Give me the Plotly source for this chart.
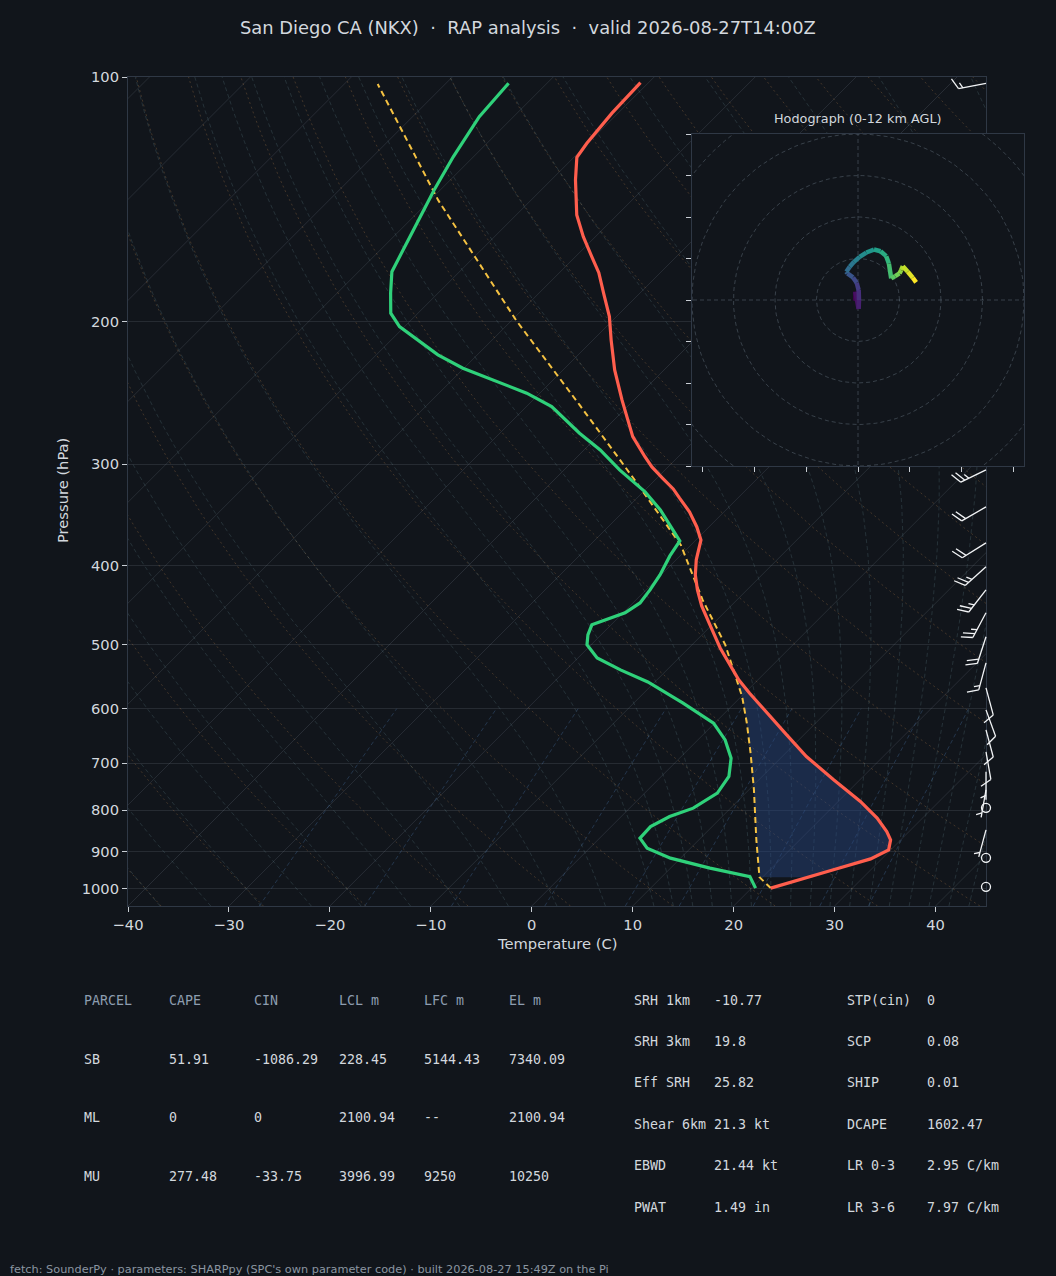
import numpy as np
import plotly.graph_objects as go
from plotly.colors import sample_colorscale

W, H = 1056, 1276
BG = '#11151b'
FG = '#d3d8de'
SPINE = '#2f3845'

# ---- sounding (hPa, degC), surface upward ----
temp_p = [998, 974.8, 947.5, 918.7, 895.6, 870.5, 850.3, 818.2, 780.6, 734.0, 687.2, 646.2,
          607.7, 574.2, 552.9, 530.0, 505.0, 473.0, 448.2, 428.4, 410.5, 393.3, 380.2, 371.8,
          358.3, 343.4, 330.0, 321.7, 312.1, 302.2, 293.6, 277.3, 249.9, 229.5, 210.9, 197.3,
          184.6, 174.2, 166.4, 157.3, 147.9, 133.9, 125.6, 120.7, 110.8, 101.6]
temp_c = [21.9, 24.0, 26.3, 28.9, 29.8, 29.0, 27.8, 25.5, 22.2, 17.4, 12.4, 8.3,
          4.2, 0.5, -1.9, -4.2, -6.9, -10.2, -12.9, -14.9, -16.6, -18.0, -18.9, -19.5,
          -21.2, -23.4, -25.8, -27.3, -29.4, -31.6, -33.3, -36.5, -41.2, -44.9, -48.2, -50.7,
          -53.6, -56.1, -58.4, -61.2, -64.0, -67.6, -69.7, -70.1, -70.6, -70.8]

dwpt_p = [998, 966.0, 943.0, 916.7, 891.1, 866.2, 838.2, 814.8, 795.5, 762.3, 727.2, 690.3,
          655.5, 625.2, 590.7, 556.1, 537.5, 519.5, 500.6, 486.6, 473.0, 466.3, 457.1, 444.5,
          428.4, 410.5, 389.0, 372.8, 356.3, 341.4, 324.4, 304.8, 288.0, 274.7, 254.7, 245.2,
          228.4, 219.9, 203.0, 195.4, 184.6, 173.7, 154.3, 137.8, 125.4, 111.9, 101.8]
dwpt_c = [20.4, 18.7, 13.9, 9.0, 5.7, 4.0, 3.9, 4.8, 6.3, 7.2, 6.7, 5.1,
          2.7, -0.1, -5.1, -10.7, -14.6, -18.1, -20.4, -21.3, -21.9, -21.1, -19.8, -19.3,
          -19.6, -20.1, -21.0, -21.5, -24.1, -26.5, -29.8, -34.5, -38.4, -42.1, -47.5, -51.3,
          -60.1, -63.9, -70.5, -72.7, -74.7, -76.7, -78.7, -80.6, -82.0, -83.4, -83.8]

parcel_p = [998, 967.5, 870.5, 755.2, 680.0, 625.2, 579.8, 552.9, 500.6, 440.7, 377.1,
            312.1, 253.5, 199.3, 141.8, 102.0]
parcel_c = [21.9, 19.7, 15.7, 10.5, 6.5, 3.2, 0.1, -2.1, -6.7, -13.4, -21.0,
            -32.3, -44.9, -59.6, -79.2, -96.7]

# wind barbs: pressure (hPa), direction (deg from), speed (kt)
barb_p = [101.8, 304.8, 338.5, 374.9, 401.1, 428.4, 457.1, 489.3, 526.9, 565.6,
          602.0, 637.2, 678.1, 717.6, 755.2, 794.9, 845.9, 915.9, 994.4]
barb_dir = [259, 244, 240, 238, 228, 218, 208, 198, 195, 165,
            160, 165, 170, 180, 190, 0, 195, 0, 0]
barb_kt = [15, 25, 20, 20, 25, 25, 25, 20, 15, 10,
           10, 10, 10, 5, 5, 0, 5, 0, 0]

# hodograph (u, v), surface -> 12 km
hodo_u = [-0.64, -0.64, 0.16, 0.24, 0.16, -0.32, -1.2, -2.56, -2.8, -2.0, -0.96, 0.4, 2.0,
          3.84, 5.44, 6.8, 7.44, 8.0, 8.96, 10.0, 10.4, 10.8, 12.0, 13.2, 14.0]
hodo_v = [-0.16, 2.0, -2.16, 0.0, 2.4, 4.16, 5.44, 6.4, 6.8, 8.0, 9.2, 10.4, 11.44,
          12.16, 11.76, 10.56, 8.8, 5.2, 5.76, 6.4, 7.2, 8.16, 6.8, 5.36, 4.24]

parcel_header = ['PARCEL', 'CAPE', 'CIN', 'LCL m', 'LFC m', 'EL m']
parcel_rows = [['SB', '51.91', '-1086.29', '228.45', '5144.43', '7340.09'],
               ['ML', '0', '0', '2100.94', '--', '2100.94'],
               ['MU', '277.48', '-33.75', '3996.99', '9250', '10250']]
kin_names = ['SRH 1km', 'SRH 3km', 'Eff SRH', 'Shear 6km', 'EBWD', 'PWAT']
kin_vals = ['-10.77', '19.8', '25.82', '21.3 kt', '21.44 kt', '1.49 in']
cmp_names = ['STP(cin)', 'SCP', 'SHIP', 'DCAPE', 'LR 0-3', 'LR 3-6']
cmp_vals = ['0', '0.08', '0.01', '1602.47', '2.95 C/km', '7.97 C/km']

# ---- skew-T geometry ----
P_BOT, P_TOP = 1050.0, 100.0
T_MIN, T_MAX = -40.0, 45.0
BOX_L, BOX_R, BOX_T, BOX_B = 128, 986, 77, 906
PX_DEG = (BOX_R - BOX_L) / (T_MAX - T_MIN)
PX_DEC = (BOX_B - BOX_T) / np.log10(P_BOT / P_TOP)
SKEW = PX_DEC / PX_DEG   # 45 degree isotherms


def skew(t, p):
    return np.asarray(t, float) + SKEW * np.log10(P_BOT / np.asarray(p, float))


def join(lines):
    xs, ys = [], []
    for x, y in lines:
        xs += list(x) + [None]
        ys += list(y) + [None]
    return xs, ys


RD, CP, LV, EPS = 287.04, 1005.7, 2.501e6, 0.622


def dtdp(p, t):
    es = 6.112 * np.exp(17.67 * (t - 273.15) / (t - 29.65))
    rs = EPS * es / (p - es)
    return (RD * t + LV * rs) / (p * (CP + LV * LV * rs * EPS / (RD * t * t)))


def integrate(t0, plist):
    out = [t0.copy()]
    t = t0.copy()
    for p0, p1 in zip(plist[:-1], plist[1:]):
        h = (p1 - p0) / 4
        p = p0
        for _ in range(4):
            k1 = dtdp(p, t)
            k2 = dtdp(p + h / 2, t + h * k1 / 2)
            k3 = dtdp(p + h / 2, t + h * k2 / 2)
            k4 = dtdp(p + h, t + h * k3)
            t = t + h * (k1 + 2 * k2 + 2 * k3 + k4) / 6
            p += h
        out.append(t.copy())
    return np.array(out)


fig = go.Figure()


def bg_lines(lines, color, dash=None):
    xs, ys = join(lines)
    fig.add_trace(go.Scatter(x=xs, y=ys, mode='lines', hoverinfo='skip', showlegend=False,
                             line=dict(color=color, width=1, dash=dash)))


# isotherms
pp = np.array([P_BOT, P_TOP])
bg_lines([(skew([t, t], pp), pp) for t in range(-130, 50, 10)], 'rgba(150,160,175,0.17)')

# dry adiabats
pg = np.geomspace(P_BOT, P_TOP, 60)
bg_lines([(skew(th * (pg / 1000) ** 0.2857 - 273.15, pg), pg)
          for th in np.arange(-50, 201, 10) + 273.15], 'rgba(200,140,80,0.27)', '2px,3px')

# moist adiabats
t0 = np.concatenate((np.arange(-50, 11, 5), np.arange(12, 46, 2))) + 273.15
p_up = np.linspace(1000, 100, 91)
p_dn = np.array([1000.0, 1025.0, 1050.0])
up = integrate(t0, p_up)
dn = integrate(t0, p_dn)
moist = []
for i in range(len(t0)):
    p_all = np.concatenate((p_dn[::-1], p_up[1:]))
    t_all = np.concatenate((dn[::-1, i], up[1:, i])) - 273.15
    moist.append((skew(t_all, p_all), p_all))
bg_lines(moist, 'rgba(110,150,160,0.22)', '4px,3px')

# mixing ratio lines
pm = np.linspace(P_BOT, 600, 20)
mix = []
for w in [0.0004, 0.001, 0.002, 0.004, 0.007, 0.01, 0.016, 0.024, 0.032]:
    e = w * pm / (EPS + w)
    le = np.log(e / 6.112)
    td = 243.5 * le / (17.67 - le)
    mix.append((skew(td, pm), pm))
bg_lines(mix, 'rgba(80,130,190,0.30)', '4px,3px')

# CIN shading between parcel and environment
lp = np.linspace(np.log10(parcel_p[1]), np.log10(480), 120)
t_env = np.interp(lp, np.log10(temp_p)[::-1], np.array(temp_c)[::-1])
t_par = np.interp(lp, np.log10(parcel_p)[::-1], np.array(parcel_c)[::-1])
diff = t_env - t_par
stop = int(np.argmax(diff <= 0)) if np.any(diff <= 0) else len(lp)
lp_f, te_f, tp_f = lp[:stop], t_env[:stop], t_par[:stop]
if stop < len(lp):
    f = diff[stop - 1] / (diff[stop - 1] - diff[stop])
    lc = lp[stop - 1] + f * (lp[stop] - lp[stop - 1])
    tc = t_par[stop - 1] + f * (t_par[stop] - t_par[stop - 1])
    lp_f, te_f, tp_f = np.append(lp_f, lc), np.append(te_f, tc), np.append(tp_f, tc)
p_f = 10 ** lp_f
fx = list(skew(tp_f, p_f)) + list(skew(te_f, p_f)[::-1])
fy = list(p_f) + list(p_f[::-1])
fig.add_trace(go.Scatter(x=fx, y=fy, mode='lines', fill='toself', fillcolor='rgba(40,70,130,0.45)',
                         line=dict(width=0), hoverinfo='skip', showlegend=False))

fig.add_trace(go.Scatter(x=skew(parcel_c, parcel_p), y=parcel_p, mode='lines', showlegend=False,
                         line=dict(color='#f5c242', width=2, dash='6px,4px')))
fig.add_trace(go.Scatter(x=skew(dwpt_c, dwpt_p), y=dwpt_p, mode='lines', showlegend=False,
                         line=dict(color='#2fd17a', width=3.2)))
fig.add_trace(go.Scatter(x=skew(temp_c, temp_p), y=temp_p, mode='lines', showlegend=False,
                         line=dict(color='#ff5e4d', width=3.2)))

# ---- wind barbs (x2/y2 share the skew-T scale, but extend a little past the right edge) ----
X2_R = 1040
STAFF, BARB, GAP = 28.0, 12.0, 4.5
ang = np.radians(65)
bx, by, cx, cy = [], [], [], []
for p, d, spd in zip(barb_p, barb_dir, barb_kt):
    if spd < 2.5:
        cx.append(T_MAX)
        cy.append(p)
        continue
    s = np.array([np.sin(np.radians(d)), -np.cos(np.radians(d))])
    b = np.array([s[0] * np.cos(ang) - s[1] * np.sin(ang), s[0] * np.sin(ang) + s[1] * np.cos(ang)])
    segs = [(np.zeros(2), s * STAFF)]
    pos = s * STAFF
    n_full, half = int(spd // 10), (spd % 10) >= 5
    for k in range(n_full):
        segs.append((pos, pos + b * BARB))
        pos = pos - s * GAP
    if half:
        if n_full == 0:
            pos = pos - s * GAP
        segs.append((pos, pos + b * BARB / 2))
    for a, c in segs:
        for q in (a, c):
            bx.append(T_MAX + q[0] / PX_DEG)
            by.append(10 ** (np.log10(p) + q[1] / PX_DEC))
        bx.append(None)
        by.append(None)
fig.add_trace(go.Scatter(x=bx, y=by, mode='lines', xaxis='x2', yaxis='y2', showlegend=False,
                         line=dict(color='#f2f4f6', width=1.3), hoverinfo='skip'))
fig.add_trace(go.Scatter(x=cx, y=cy, mode='markers', xaxis='x2', yaxis='y2', showlegend=False,
                         cliponaxis=False, hoverinfo='skip',
                         marker=dict(symbol='circle-open', size=9, color='#f2f4f6', line=dict(width=1.3))))

# ---- hodograph ----
th = np.linspace(0, 2 * np.pi, 181)
rings = [(r * np.cos(th), r * np.sin(th)) for r in (10, 20, 30, 40, 50)]
rings += [([-60, 60], [0, 0]), ([0, 0], [-60, 60])]
rx, ry = join(rings)
fig.add_trace(go.Scatter(x=rx, y=ry, mode='lines', xaxis='x3', yaxis='y3', showlegend=False,
                         hoverinfo='skip', line=dict(color='rgba(130,145,160,0.35)', width=1, dash='4px,3px')))
n = len(hodo_u)
cols = sample_colorscale('Viridis', [i / (n - 2) for i in range(n - 1)])
for i in range(n - 1):
    fig.add_trace(go.Scatter(x=hodo_u[i:i + 2], y=hodo_v[i:i + 2], mode='lines', xaxis='x3', yaxis='y3',
                             showlegend=False, line=dict(color=cols[i], width=4.5)))

# ---- layout ----
ax_common = dict(showline=True, mirror=True, linecolor=SPINE, linewidth=1, zeroline=False,
                 ticks='outside', ticklen=5, tickcolor='#c9ced4', automargin=False)
ydom = [1 - BOX_B / H, 1 - BOX_T / H]
yrange = [np.log10(P_BOT), np.log10(P_TOP)]
fig.update_layout(
    template='none', width=W, height=H, margin=dict(l=0, r=0, t=0, b=0),
    paper_bgcolor=BG, plot_bgcolor='rgba(0,0,0,0)', showlegend=False,
    font=dict(family='DejaVu Sans', color=FG),
    xaxis=dict(domain=[BOX_L / W, BOX_R / W], range=[T_MIN, T_MAX], tickvals=list(range(-40, 41, 10)),
               showgrid=False, anchor='y', tickfont=dict(size=14.7, color=FG), **ax_common),
    yaxis=dict(domain=ydom, type='log', range=yrange, tickvals=list(range(100, 1001, 100)),
               ticktext=[str(v) for v in range(100, 1001, 100)], showgrid=True,
               gridcolor='rgba(150,160,175,0.16)', gridwidth=1, anchor='x',
               tickfont=dict(size=14.7, color=FG), **ax_common),
    xaxis2=dict(domain=[BOX_L / W, X2_R / W], range=[T_MIN, T_MIN + (X2_R - BOX_L) / PX_DEG],
                visible=False, anchor='y2'),
    yaxis2=dict(domain=ydom, type='log', range=yrange, visible=False, anchor='x2'),
    xaxis3=dict(domain=[692 / W, 1024 / W], range=[-40, 40], anchor='y3', showgrid=False,
                tickvals=[-37.5, -25, -12.5, 0, 12.5, 25, 37.5], showticklabels=False, **ax_common),
    yaxis3=dict(domain=[1 - 466 / H, 1 - 134 / H], range=[-40, 40], anchor='x3', showgrid=False,
                tickvals=list(range(-40, 41, 10)), showticklabels=False, **ax_common),
)
fig.add_shape(type='rect', xref='x3', yref='y3', x0=-40, x1=40, y0=-40, y1=40,
              fillcolor=BG, line=dict(width=0), layer='below')


def label(px, py, text, size, color=FG, anchor='center', family='DejaVu Sans', angle=0):
    fig.add_annotation(x=px / W, y=1 - py / H, xref='paper', yref='paper', text=text, showarrow=False,
                       xanchor=anchor, yanchor='middle', textangle=angle, borderpad=0,
                       font=dict(size=size, color=color, family=family))


label(528, 27, 'San Diego CA (NKX)  \u00b7  RAP analysis  \u00b7  valid 2026-08-27T14:00Z', 17.9)
label(557, 943, 'Temperature (C)', 14.7)
label(63, 491, 'Pressure (hPa)', 14.7, angle=-90)
label(858, 119, 'Hodograph (0-12 km AGL)', 12.8)

MONO = 'DejaVu Sans Mono'
col_x = [83, 168, 253, 338, 423, 508]
for j, h in enumerate(parcel_header):
    label(col_x[j], 1000, h, 13.3, '#8d9db0', 'left', MONO)
for i, row in enumerate(parcel_rows):
    for j, v in enumerate(row):
        label(col_x[j], 1059 + i * 58.7, v, 13.3, FG, 'left', MONO)
for i in range(6):
    yy = 1000 + i * 41.4
    label(633, yy, kin_names[i], 13.3, FG, 'left', MONO)
    label(713, yy, kin_vals[i], 13.3, FG, 'left', MONO)
    label(846, yy, cmp_names[i], 13.3, FG, 'left', MONO)
    label(926, yy, cmp_vals[i], 13.3, FG, 'left', MONO)

label(9, 1269, "fetch: SounderPy \u00b7 parameters: SHARPpy (SPC's own parameter code) \u00b7 "
      "built 2026-08-27 15:49Z on the Pi", 11.3, '#8b95a1', 'left')

fig.write_html('out.html', config={'displayModeBar': False},
               post_script="document.body.style.margin='0';document.body.style.background='#11151b';"
                           "document.body.style.overflow='hidden';")
